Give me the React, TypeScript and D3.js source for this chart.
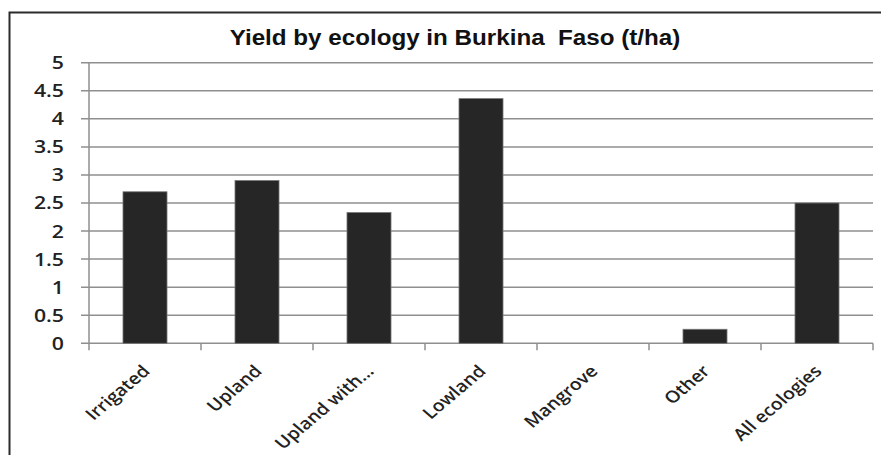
import React from "react";
import * as d3 from "d3";

const categories = ["Irrigated", "Upland", "Upland with…", "Lowland", "Mangrove", "Other", "All ecologies"];
const yields = [2.7, 2.9, 2.33, 4.36, 0, 0.25, 2.5];
const yTicks = [0, 0.5, 1, 1.5, 2, 2.5, 3, 3.5, 4, 4.5, 5];
const yTickLabels = ["0", "0.5", "1", "1.5", "2", "2.5", "3", "3.5", "4", "4.5", "5"];
const title = "Yield by ecology in Burkina  Faso (t/ha)";

export default function App() {
  const W = 881, H = 455;
  const left = 89, right = 873, top = 62.7, bottom = 343.3;
  const sx = 1.18;
  const x = d3.scaleBand<string>().domain(categories).range([left, right]).paddingInner(0.607).paddingOuter(0.3035);
  const xb = d3.scaleBand<string>().domain(categories).range([left, right]);
  const y = d3.scaleLinear().domain([0, 5]).range([bottom, top]);
  const tickFont = "'Open Sans', 'DejaVu Sans', sans-serif";
  return (
    <svg width={W} height={H} style={{ position: "absolute", left: 0, top: 0, background: "#fff" }}>
      <rect x={9.5} y={12.5} width={W + 10} height={H + 10} fill="#fff" stroke="#2b2b2b" strokeWidth={2} />
      <text transform="translate(455,45) scale(1.1,1)" textAnchor="middle" style={{ whiteSpace: "pre" }} fontFamily="'Liberation Sans', Arial, sans-serif" fontWeight="bold" fontSize={22} fill="#111">{title}</text>
      {yTicks.map((t, i) => (
        <g key={t}>
          <line x1={81} x2={right} y1={y(t)} y2={y(t)} stroke="#8f8f8f" strokeWidth={1.5} />
          <text transform={`translate(64,${y(t)}) scale(${sx},1)`} dy="0.36em" textAnchor="end" fontFamily={tickFont} fontWeight={600} fontSize={18} fill="#222">{yTickLabels[i]}</text>
        </g>
      ))}
      <line x1={left} x2={left} y1={top} y2={bottom + 7} stroke="#8f8f8f" strokeWidth={1.5} />
      {categories.map((c) => (
        <line key={"t" + c} x1={xb(c)! + xb.bandwidth()} x2={xb(c)! + xb.bandwidth()} y1={bottom} y2={bottom + 7} stroke="#8f8f8f" strokeWidth={1.5} />
      ))}
      {categories.map((c, i) => (
        <rect key={c} x={x(c)} y={y(yields[i])} width={x.bandwidth()} height={bottom - y(yields[i])} fill="#262626" stroke="#777" strokeWidth={yields[i] > 0 ? 0.8 : 0} />
      ))}
      {categories.map((c) => {
        const cx = xb(c)! + xb.bandwidth() / 2;
        return (
          <text key={"l" + c} transform={`translate(${cx + 6},${bottom + 29}) scale(${sx},1) rotate(-45)`} textAnchor="end" fontFamily={tickFont} fontWeight={600} fontSize={16.5} fill="#222">{c}</text>
        );
      })}
    </svg>
  );
}
